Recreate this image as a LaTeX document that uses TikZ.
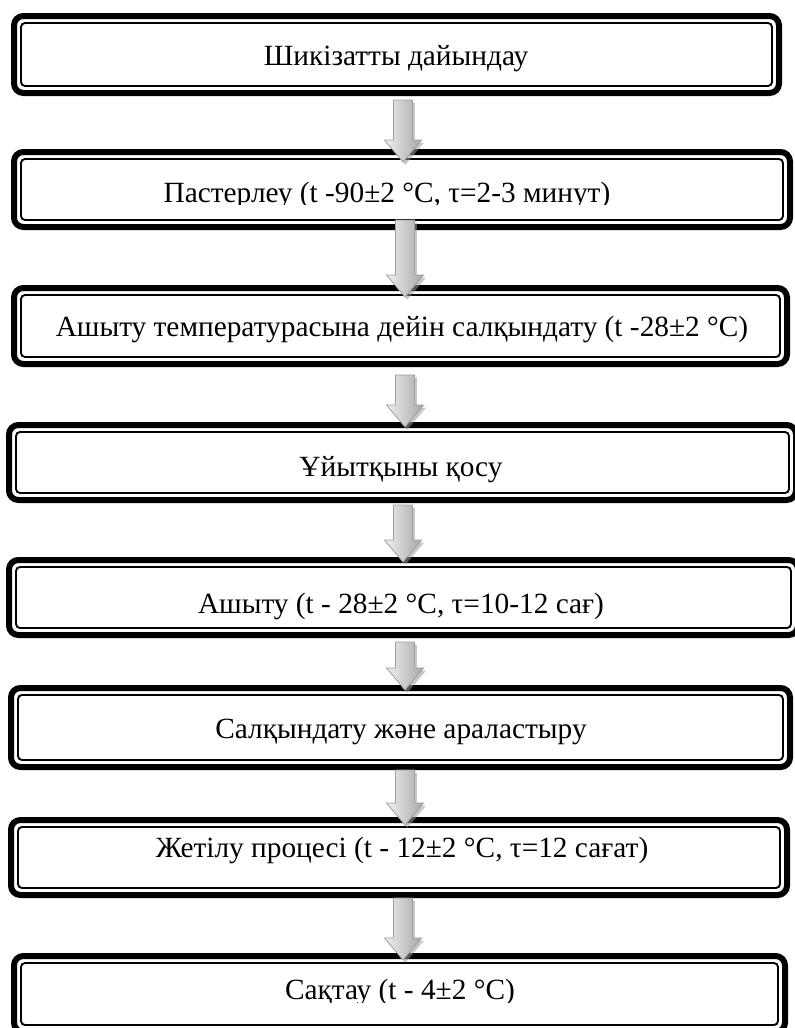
\documentclass[tikz,border=0pt]{standalone}
\usepackage{fontspec}
\setmainfont{Liberation Serif}
\usetikzlibrary{calc,shadows}
\tikzset{
  outerbox/.style={draw=black, fill=white, line width=4.5pt, rounded corners=7pt,
    inner sep=0pt, outer sep=0pt, shape=rectangle},
  innerline/.style={draw=black, line width=1.4pt, rounded corners=3pt},
  steptext/.style={font=\fontsize{22}{26}\selectfont, anchor=base, inner sep=0pt},
  blockarrow/.style={draw=gray!75, line width=0.6pt, left color=gray!12, right color=gray!70,
    drop shadow={shadow xshift=1.8pt, shadow yshift=-2pt, fill=gray!80, opacity=0.55},
    to path={let \p1=(\tikztostart), \p2=(\tikztotarget) in
      (\x1-7.1pt,\y1) -- (\x1+7.1pt,\y1) -- (\x1+7.1pt,\y2+16.5pt) -- (\x1+13.9pt,\y2+16.5pt)
      -- (\x1,\y2) -- (\x1-13.9pt,\y2+16.5pt) -- (\x1-7.1pt,\y2+16.5pt) -- cycle}}
}
\newcommand{\innerframe}[1]{\draw[innerline] ([shift={(5.25pt,-5.25pt)}]#1.north west) rectangle ([shift={(-5.25pt,5.25pt)}]#1.south east);}
\begin{document}
\begin{tikzpicture}[x=0.75pt,y=-0.75pt]
\useasboundingbox (0,0) rectangle (794,1028);
% boxes
\node[outerbox, minimum width=573.75pt, minimum height=57.75pt] (b1) at (396.5,54.5) {};
\node[outerbox, minimum width=582pt, minimum height=56.25pt] (b2) at (402,189.5) {};
\node[outerbox, minimum width=579.75pt, minimum height=57pt] (b3) at (400.5,326) {};
\node[outerbox, minimum width=590.25pt, minimum height=56.25pt] (b4) at (402.5,462.5) {};
\node[outerbox, minimum width=591.75pt, minimum height=56.25pt] (b5) at (403.5,597.5) {};
\node[outerbox, minimum width=584.25pt, minimum height=59.25pt] (b6) at (400.5,727.5) {};
\node[outerbox, minimum width=582pt, minimum height=56.25pt] (b7) at (399,857.5) {};
\node[outerbox, minimum width=578.25pt, minimum height=57pt] (b8) at (399.5,994) {};
\innerframe{b1}\innerframe{b2}\innerframe{b3}\innerframe{b4}
\innerframe{b5}\innerframe{b6}\innerframe{b7}\innerframe{b8}
% texts
\node[steptext] (t1) at (396,65) {Шикізатты дайындау};
\begin{scope}
\clip (0,150) rectangle (794,204);
\node[steptext] (t2) at (387,202) {Пастерлеу (t -90±2 °C, τ=2-3 минут)};
\end{scope}
\node[steptext] (t3) at (402,336) {Ашыту температурасына дейін салқындату (t -28±2 °C)};
\node[steptext] (t4) at (401,476) {Ұйытқыны қосу};
\node[steptext] (t5) at (401,613) {Ашыту (t - 28±2 °C, τ=10-12 сағ)};
\node[steptext] (t6) at (401,738) {Салқындату және араластыру};
\node[steptext] (t7) at (402,857) {Жетілу процесі (t - 12±2 °C, τ=12 сағат)};
\begin{scope}
\clip (0,956) rectangle (794,1002);
\node[steptext] (t8) at (400,999) {Сақтау (t - 4±2 °C)};
\end{scope}
% arrow ends
\coordinate (s1) at (403,100); \coordinate (e1) at (403,162);
\coordinate (s2) at (405,220); \coordinate (e2) at (405,297);
\coordinate (s3) at (405,375); \coordinate (e3) at (405,427);
\coordinate (s4) at (403,505); \coordinate (e4) at (403,562);
\coordinate (s5) at (405,642); \coordinate (e5) at (405,690);
\coordinate (s6) at (405,770); \coordinate (e6) at (405,825);
\coordinate (s7) at (403,898); \coordinate (e7) at (403,960);
\foreach \i in {1,...,7} {\path[blockarrow] (s\i) to (e\i);}
\end{tikzpicture}
\end{document}
